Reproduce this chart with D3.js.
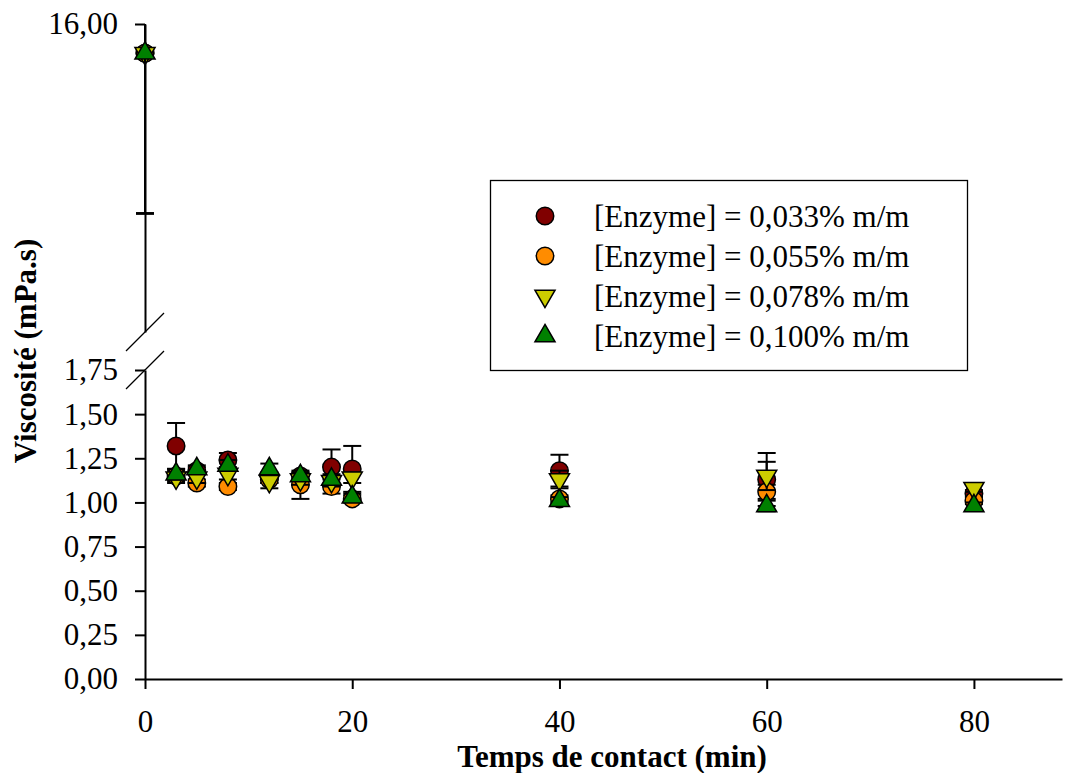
<!DOCTYPE html>
<html>
<head>
<meta charset="utf-8">
<script src="https://cdn.jsdelivr.net/npm/d3@7"></script>
<style>
  body { margin: 0; background: #fff; }
  text { font-family: "Liberation Serif", "Times New Roman", serif; }
</style>
</head>
<body>
<div id="chart"></div>
<script>
var times = [0, 3, 5, 8, 12, 15, 18, 20, 40, 60, 80];

var visc033 = [15.81, 1.32, 1.18, 1.24, 1.14, 1.15, 1.20, 1.19, 1.18, 1.13, 1.05];
var err033  = [1.04, 0.13, 0.02, 0.04, 0.03, 0.02, 0.10, 0.13, 0.09, 0.15, 0.02];
var visc055 = [15.81, 1.15, 1.11, 1.09, 1.13, 1.10, 1.09, 1.02, 1.02, 1.06, 1.01];
var err055  = [1.04, 0.03, 0.02, 0.02, 0.02, 0.08, 0.04, 0.02, 0.02, 0.04, 0.02];
var visc078 = [15.81, 1.14, 1.14, 1.16, 1.12, 1.13, 1.12, 1.14, 1.13, 1.15, 1.08];
var err078  = [1.04, 0.03, 0.03, 0.03, 0.04, 0.03, 0.03, 0.03, 0.05, 0.08, 0.02];
var visc100 = [15.81, 1.16, 1.19, 1.21, 1.19, 1.15, 1.13, 1.03, 1.01, 0.98, 0.98];
var err100  = [1.04, 0.03, 0.02, 0.03, 0.03, 0.02, 0.03, 0.02, 0.02, 0.03, 0.02];

var seriesNames = ["[Enzyme] = 0,033% m/m", "[Enzyme] = 0,055% m/m",
                   "[Enzyme] = 0,078% m/m", "[Enzyme] = 0,100% m/m"];
var xTicks = [0, 20, 40, 60, 80];
var yTicksLow = [0, 0.25, 0.5, 0.75, 1, 1.25, 1.5, 1.75];
var yTicksHigh = [16];

var colors = ["#800000", "#ff8c00", "#cccc00", "#008000"],
  shapes = ["circle", "circle", "down", "up"];

var W = 1065, H = 773,
  x0 = 145, x1 = 1062,
  yBottom = 679, yLowTop = 370,
  yHighBottom = 332, yTop = 24,
  fontSize = "31px";

var svg = d3.select("#chart").append("svg")
  .attr("width", W)
  .attr("height", H);

var x = d3.scaleLinear().domain([0, 88.5]).range([x0, x1]);
var yLow = d3.scaleLinear().domain([0, 1.75]).range([yBottom, yLowTop]);
var yHigh = d3.scaleLinear().domain([14, 16]).range([yHighBottom, yTop]);
function y(v){ return v > 1.75 ? yHigh(v) : yLow(v); }

var fmt = function(d){ return d3.format(".2f")(d).replace(".", ","); };

// axes
var xAxis = svg.append("g")
  .attr("transform", "translate(0," + yBottom + ")")
  .call(d3.axisBottom(x).tickValues(xTicks).tickSize(10).tickSizeOuter(0).tickPadding(21));
var yAxisLow = svg.append("g")
  .attr("transform", "translate(" + x0 + ",0)")
  .call(d3.axisLeft(yLow).tickValues(yTicksLow).tickFormat(fmt).tickSize(10).tickSizeOuter(0).tickPadding(17));
var yAxisHigh = svg.append("g")
  .attr("transform", "translate(" + x0 + ",0)")
  .call(d3.axisLeft(yHigh).tickValues(yTicksHigh).tickFormat(fmt).tickSize(10).tickSizeOuter(0).tickPadding(17));

[xAxis, yAxisLow, yAxisHigh].forEach(function(a){
  a.attr("font-family", null).attr("font-size", null);
  a.selectAll("path, line").attr("stroke", "#000").attr("stroke-width", 2);
  a.selectAll("text").attr("fill", "#000").style("font-size", fontSize);
});

// break marks
[yHighBottom, yLowTop].forEach(function(b){
  svg.append("line")
    .attr("x1", x0 - 19).attr("y1", b + 19)
    .attr("x2", x0 + 19).attr("y2", b - 19)
    .attr("stroke", "#000").attr("stroke-width", 1.3);
});

// axis titles
svg.append("text")
  .attr("x", 612).attr("y", 767)
  .attr("text-anchor", "middle")
  .style("font-size", fontSize).style("font-weight", "bold")
  .text("Temps de contact (min)");
svg.append("text")
  .attr("transform", "translate(36,351) rotate(-90)")
  .attr("text-anchor", "middle")
  .style("font-size", fontSize).style("font-weight", "bold")
  .text("Viscosité (mPa.s)");

function markerPath(shape){
  if (shape == "circle") return d3.symbol().type(d3.symbolCircle).size(240)();
  return d3.symbol().type(d3.symbolTriangle).size(175)();
}
function markerTransform(shape, cx, cy){
  return "translate(" + cx + "," + cy + ")" + (shape == "down" ? " rotate(180)" : "");
}

var allValues = [visc033, visc055, visc078, visc100],
  allErrors = [err033, err055, err078, err100];

allValues.forEach(function(vals, s){
  var data = times.map(function(t, i){ return { t: t, v: vals[i], e: allErrors[s][i] }; });
  var g = svg.append("g").attr("class", "series");

  var eb = g.selectAll(".err").data(data).enter().append("g").attr("class", "err");
  eb.append("line")
    .attr("x1", function(d){ return x(d.t); }).attr("x2", function(d){ return x(d.t); })
    .attr("y1", function(d){ return y(Math.min(d.v + d.e, d.v > 1.75 ? 16 : 99)); })
    .attr("y2", function(d){ return y(d.v - d.e); })
    .attr("stroke", "#000").attr("stroke-width", 2);
  eb.each(function(d){
    var ends = [d.v - d.e];
    if (d.v + d.e <= (d.v > 1.75 ? 16 : 99)) ends.push(d.v + d.e);
    var sel = d3.select(this);
    ends.forEach(function(v){
      sel.append("line")
        .attr("x1", x(d.t) - 9).attr("x2", x(d.t) + 9)
        .attr("y1", y(v)).attr("y2", y(v))
        .attr("stroke", "#000").attr("stroke-width", 2);
    });
  });

  g.selectAll(".pt").data(data).enter().append("path")
    .attr("class", "pt")
    .attr("d", markerPath(shapes[s]))
    .attr("transform", function(d){ return markerTransform(shapes[s], x(d.t), y(d.v)); })
    .attr("fill", colors[s])
    .attr("stroke", "#000").attr("stroke-width", 1.5);
});

// legend
var legend = svg.append("g");
legend.append("rect")
  .attr("x", 490.5).attr("y", 180.5).attr("width", 477).attr("height", 190)
  .attr("fill", "#fff").attr("stroke", "#000").attr("stroke-width", 1.3);
seriesNames.forEach(function(name, i){
  var ly = 216 + i * 40;
  legend.append("path")
    .attr("d", markerPath(shapes[i]))
    .attr("transform", markerTransform(shapes[i], 545, ly))
    .attr("fill", colors[i]).attr("stroke", "#000").attr("stroke-width", 1.5);
  legend.append("text")
    .attr("x", 594).attr("y", ly).attr("dy", "0.35em")
    .style("font-size", fontSize)
    .text(name);
});
</script>
</body>
</html>
